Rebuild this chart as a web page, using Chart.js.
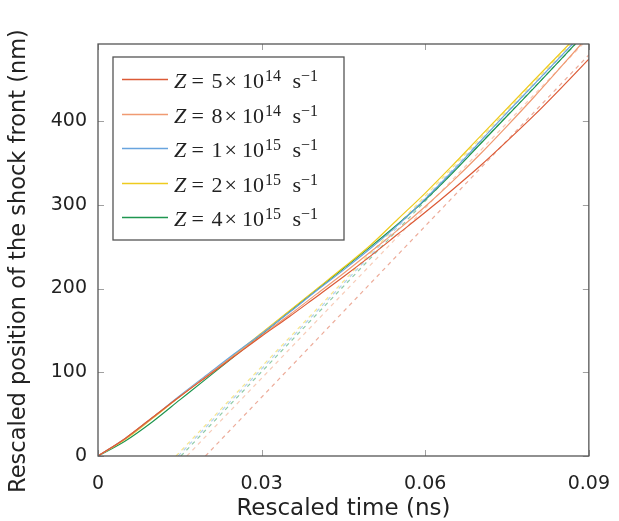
<!DOCTYPE html>
<html lang="en">
<head>
  <meta charset="UTF-8" />
  <title>Shock front position</title>
  <script src="https://cdn.jsdelivr.net/npm/chart.js@4.4.3/dist/chart.umd.min.js"></script>
  <style>
    html, body {
      margin: 0;
      padding: 0;
      background: #ffffff;
    }

    .wrap {
      width: 619px;
      height: 521px;
      position: relative;
    }
  </style>
</head>
<body>
  <div class="wrap">
    <canvas id="shockChart"></canvas>
  </div>

  <script>
    // legend text pieces: Z = m x 10^e s^-1
    const mantissas = ['5', '8', '1', '2', '4'];
    const exponents = ['14', '14', '15', '15', '15'];
    const colors = ['#dc5a36', '#f09a72', '#68a4de', '#eecb1e', '#1f9650'];

    // solid curves (time in ns, position in nm)
    const tRed = [0, 0.005, 0.01, 0.015, 0.02, 0.025, 0.03, 0.035, 0.04, 0.045, 0.05, 0.055, 0.06, 0.065, 0.07, 0.075, 0.08, 0.085, 0.09];
    const yRed = [0, 21, 46, 71, 95, 119, 143, 166, 190, 214, 239, 265, 291, 318, 346, 376, 407, 440, 474];

    const tOrange = [0, 0.005, 0.01, 0.015, 0.02, 0.025, 0.03, 0.035, 0.04, 0.045, 0.05, 0.055, 0.06, 0.065, 0.07, 0.075, 0.08, 0.0886];
    const yOrange = [0, 21, 46, 71, 96, 120, 144, 168, 193, 218, 244, 270, 298, 328, 360, 394, 429, 492];

    const tBlue = [0, 0.005, 0.01, 0.015, 0.02, 0.025, 0.03, 0.035, 0.04, 0.045, 0.05, 0.055, 0.06, 0.065, 0.07, 0.075, 0.08, 0.087];
    const yBlue = [0, 21, 46, 72, 97, 122, 146, 171, 197, 222, 248, 276, 307, 340, 375, 410, 444, 492];

    const tYellow = [0, 0.005, 0.01, 0.015, 0.02, 0.025, 0.03, 0.035, 0.04, 0.045, 0.05, 0.055, 0.06, 0.065, 0.07, 0.075, 0.08, 0.0864];
    const yYellow = [0, 20, 45, 71, 96, 121, 147, 173, 199, 225, 252, 283, 314, 347, 381, 415, 449, 492];

    const tGreen = [0, 0.005, 0.01, 0.015, 0.02, 0.025, 0.03, 0.035, 0.04, 0.045, 0.05, 0.055, 0.06, 0.065, 0.07, 0.075, 0.08, 0.0875];
    const yGreen = [0, 18, 41, 67, 93, 119, 145, 172, 198, 224, 250, 277, 306, 338, 372, 406, 440, 492];

    // dashed linear fits: start and end points
    const tFitRed = [0.0197, 0.09];
    const yFitRed = [0, 479];
    const tFitOrange = [0.0163, 0.0889];
    const yFitOrange = [0, 492];
    const tFitBlue = [0.0147, 0.0871];
    const yFitBlue = [0, 492];
    const tFitYellow = [0.0143, 0.0867];
    const yFitYellow = [0, 492];
    const tFitGreen = [0.0152, 0.0876];
    const yFitGreen = [0, 492];

    const xTicks = [0, 0.03, 0.06, 0.09];
    const yTicks = [0, 100, 200, 300, 400];

    const solidT = [tRed, tOrange, tBlue, tYellow, tGreen];
    const solidY = [yRed, yOrange, yBlue, yYellow, yGreen];
    const fitT = [tFitRed, tFitOrange, tFitBlue, tFitYellow, tFitGreen];
    const fitY = [yFitRed, yFitOrange, yFitBlue, yFitYellow, yFitGreen];

    const pts = (ts, ys) => ts.map((t, i) => ({ x: t, y: ys[i] }));

    function fade(hex, a) {
      const n = parseInt(hex.slice(1), 16);
      return `rgba(${n >> 16}, ${(n >> 8) & 255}, ${n & 255}, ${a})`;
    }

    const datasets = [];
    colors.forEach((c, i) => {
      datasets.push({
        label: 'fit ' + i,
        data: pts(fitT[i], fitY[i]),
        borderColor: fade(c, 0.5),
        borderWidth: 1.2,
        borderDash: [4, 4],
        pointRadius: 0,
        tension: 0,
        order: 2
      });
    });
    colors.forEach((c, i) => {
      datasets.push({
        label: 'Z = ' + mantissas[i] + '×10^' + exponents[i] + ' s^-1',
        data: pts(solidT[i], solidY[i]),
        borderColor: c,
        borderWidth: 1.2,
        pointRadius: 0,
        cubicInterpolationMode: 'monotone',
        order: 1
      });
    });

    const frameColor = '#555555';
    const tickColor = '#a0a0a0';
    const textColor = '#222222';
    const yTitle = 'Rescaled position of the shock front (nm)';

    // frame, inward ticks, y title and the legend box
    const framePlugin = {
      id: 'frame',
      afterDatasetsDraw(chart) {
        const { ctx, chartArea: a, scales } = chart;
        ctx.save();
        ctx.strokeStyle = tickColor;
        ctx.lineWidth = 1;
        ctx.beginPath();
        xTicks.forEach(v => {
          const px = Math.round(scales.x.getPixelForValue(v)) + 0.5;
          ctx.moveTo(px, a.bottom); ctx.lineTo(px, a.bottom - 6);
          ctx.moveTo(px, a.top); ctx.lineTo(px, a.top + 6);
        });
        yTicks.forEach(v => {
          const py = Math.round(scales.y.getPixelForValue(v)) + 0.5;
          ctx.moveTo(a.left, py); ctx.lineTo(a.left + 6, py);
          ctx.moveTo(a.right, py); ctx.lineTo(a.right - 6, py);
        });
        ctx.stroke();

        ctx.strokeStyle = frameColor;
        ctx.lineWidth = 1.3;
        ctx.strokeRect(a.left, a.top, a.right - a.left, a.bottom - a.top);

        // y axis title, sits a bit below the plot centre as in the original
        ctx.save();
        ctx.translate(19, 261);
        ctx.rotate(-Math.PI / 2);
        ctx.fillStyle = textColor;
        ctx.font = '22.5px "DejaVu Sans"';
        ctx.textAlign = 'center';
        ctx.textBaseline = 'middle';
        ctx.fillText(yTitle, 0, 0);
        ctx.restore();

        // legend
        const bx = a.left + 15, by = a.top + 13, bw = 231, bh = 183;
        ctx.fillStyle = '#ffffff';
        ctx.fillRect(bx, by, bw, bh);
        ctx.strokeStyle = frameColor;
        ctx.strokeRect(bx, by, bw, bh);

        colors.forEach((c, i) => {
          const ly = Math.round(by + 22 + i * 34.6) + 0.5;
          ctx.strokeStyle = c;
          ctx.lineWidth = 1.6;
          ctx.beginPath();
          ctx.moveTo(bx + 9, ly);
          ctx.lineTo(bx + 55, ly);
          ctx.stroke();

          const tx = bx + 61;
          const base = ly + 8.5;
          const sup = ly + 1.5;
          ctx.fillStyle = textColor;
          ctx.textBaseline = 'alphabetic';
          ctx.textAlign = 'left';
          ctx.font = 'italic 22px "Liberation Serif"';
          ctx.fillText('Z', tx, base);
          ctx.font = '22px "Liberation Serif"';
          ctx.fillText('=', tx + 17.5, base);
          ctx.fillText(mantissas[i], tx + 37.5, base);
          ctx.fillText('×', tx + 50.5, base);
          ctx.fillText('10', tx + 68, base);
          ctx.fillText('s', tx + 118.5, base);
          ctx.font = '16px "Liberation Serif"';
          ctx.fillText(exponents[i], tx + 91, sup);
          ctx.fillText('−1', tx + 127, sup);
        });
        ctx.restore();
      }
    };

    new Chart(document.getElementById('shockChart'), {
      type: 'line',
      data: { datasets },
      options: {
        responsive: true,
        maintainAspectRatio: false,
        animation: false,
        layout: {
          padding: { top: 44, right: 23, left: 0, bottom: 0 }
        },
        scales: {
          x: {
            type: 'linear',
            min: 0,
            max: 0.09,
            afterFit: s => { s.height = 65; },
            afterBuildTicks: s => { s.ticks = xTicks.map(v => ({ value: v })); },
            grid: { display: false },
            border: { display: false },
            ticks: {
              padding: 9,
              color: textColor,
              font: { family: 'DejaVu Sans', size: 19 },
              callback: v => (v === 0 ? '0' : v.toFixed(2))
            },
            title: {
              display: true,
              text: 'Rescaled time (ns)',
              color: textColor,
              font: { family: 'DejaVu Sans', size: 23 },
              padding: { top: 0, bottom: -2 }
            }
          },
          y: {
            min: 0,
            max: 492,
            afterFit: s => { s.width = 98; },
            afterBuildTicks: s => { s.ticks = yTicks.map(v => ({ value: v })); },
            grid: { display: false },
            border: { display: false },
            ticks: {
              padding: 3,
              color: textColor,
              font: { family: 'DejaVu Sans', size: 19 }
            },
            title: { display: false }
          }
        },
        plugins: {
          legend: { display: false },
          tooltip: { enabled: false }
        }
      },
      plugins: [framePlugin]
    });
  </script>
</body>
</html>
